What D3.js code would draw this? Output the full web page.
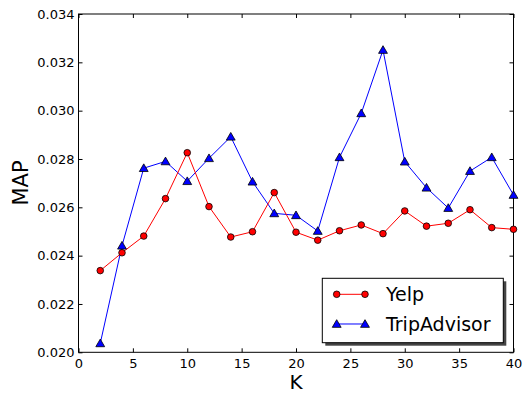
<!DOCTYPE html>
<html>
<head>
<meta charset="utf-8">
<script src="https://cdn.jsdelivr.net/npm/d3@7"></script>
<style>
  body { margin: 0; background: #fff; }
  svg { font-family: "DejaVu Sans", sans-serif; }
</style>
</head>
<body>
<svg id="chart" width="527" height="395"></svg>
<script>
// values
const ks = [2, 4, 6, 8, 10, 12, 14, 16, 18, 20, 22, 24, 26, 28, 30, 32, 34, 36, 38, 40];
const yelp = [0.02338, 0.02412, 0.02481, 0.02636, 0.02826, 0.02603, 0.02477, 0.02499, 0.02661, 0.02497,
              0.02464, 0.02503, 0.02527, 0.02491, 0.02585, 0.02522, 0.02534, 0.02590, 0.02516, 0.02509];
const tripAdvisor = [0.02037, 0.02441, 0.02762, 0.02790, 0.02708, 0.02803, 0.02892, 0.02706, 0.02575, 0.02567,
                     0.02502, 0.02807, 0.02989, 0.03251, 0.02789, 0.02681, 0.02597, 0.02750, 0.02807, 0.02651];
const xTicks = [0, 5, 10, 15, 20, 25, 30, 35, 40];
const yTicks = [0.020, 0.022, 0.024, 0.026, 0.028, 0.030, 0.032, 0.034];

const svg = d3.select("#chart");
const margin = { top: 14, right: 13.5, bottom: 42.7, left: 78.5 };
const width = 527 - margin.left - margin.right;
const height = 395 - margin.top - margin.bottom;

const g = svg.append("g").attr("transform", `translate(${margin.left},${margin.top})`);

const x = d3.scaleLinear().domain([0, 40]).range([0, width]);
const y = d3.scaleLinear().domain([0.020, 0.034]).range([height, 0]);

// axes with inward ticks on all sides
const tickLen = 4;
const axBottom = g.append("g").attr("transform", `translate(0,${height})`)
  .call(d3.axisBottom(x).tickValues(xTicks).tickSizeInner(-tickLen).tickSizeOuter(0).tickPadding(6));
const axTop = g.append("g")
  .call(d3.axisTop(x).tickValues(xTicks).tickSizeInner(-tickLen).tickSizeOuter(0).tickFormat(""));
const axLeft = g.append("g")
  .call(d3.axisLeft(y).tickValues(yTicks).tickSizeInner(-tickLen).tickSizeOuter(0).tickPadding(4).tickFormat(d3.format(".3f")));
const axRight = g.append("g").attr("transform", `translate(${width},0)`)
  .call(d3.axisRight(y).tickValues(yTicks).tickSizeInner(-tickLen).tickSizeOuter(0).tickFormat(""));

[axBottom, axTop, axLeft, axRight].forEach(a => {
  a.select(".domain").remove();
  a.selectAll("line").attr("stroke", "#000").attr("stroke-width", 1);
  a.selectAll("text").attr("font-size", 13).attr("fill", "#000")
    .attr("font-family", "DejaVu Sans, sans-serif");
});

g.append("rect").attr("width", width).attr("height", height)
  .attr("fill", "none").attr("stroke", "#000").attr("stroke-width", 1);

// series
const line = d3.line().x(d => x(d[0])).y(d => y(d[1]));
const yelpPts = ks.map((k, i) => [k, yelp[i]]);
const taPts = ks.map((k, i) => [k, tripAdvisor[i]]);
const tri = d3.symbol().type(d3.symbolTriangle).size(34);

g.append("path").datum(taPts).attr("d", line)
  .attr("fill", "none").attr("stroke", "#0000ff").attr("stroke-width", 1);
g.append("path").datum(yelpPts).attr("d", line)
  .attr("fill", "none").attr("stroke", "#ff0000").attr("stroke-width", 1);

g.selectAll(".ta").data(taPts).join("path").attr("class", "ta")
  .attr("d", tri).attr("transform", d => `translate(${x(d[0])},${y(d[1]) + 0.8})`)
  .attr("fill", "#0000ff").attr("stroke", "#000").attr("stroke-width", 0.8);
g.selectAll(".yelp").data(yelpPts).join("circle").attr("class", "yelp")
  .attr("cx", d => x(d[0])).attr("cy", d => y(d[1])).attr("r", 3.3)
  .attr("fill", "#ff0000").attr("stroke", "#000").attr("stroke-width", 0.8);

// axis titles
svg.append("text").attr("x", margin.left + width / 2).attr("y", 389)
  .attr("text-anchor", "middle").attr("font-size", 20).text("K");
svg.append("text").attr("transform", `translate(28,183) rotate(-90)`)
  .attr("text-anchor", "middle").attr("font-size", 21).text("MAP");

// legend
const lg = svg.append("g").attr("transform", "translate(322.3,278.3)");
const lw = 181, lh = 64.4;
lg.append("rect").attr("x", 3).attr("y", 3).attr("width", lw).attr("height", lh).attr("fill", "#444");
lg.append("rect").attr("width", lw).attr("height", lh).attr("fill", "#fff").attr("stroke", "#000").attr("stroke-width", 1);
const entries = [
  { name: "Yelp", color: "#ff0000", shape: "circle", cy: 16 },
  { name: "TripAdvisor", color: "#0000ff", shape: "triangle", cy: 45.7 }
];
entries.forEach(e => {
  lg.append("line").attr("x1", 14.4).attr("x2", 42.7).attr("y1", e.cy).attr("y2", e.cy)
    .attr("stroke", e.color).attr("stroke-width", 1);
  [14.4, 42.7].forEach(px => {
    if (e.shape === "circle") {
      lg.append("circle").attr("cx", px).attr("cy", e.cy).attr("r", 3.3)
        .attr("fill", e.color).attr("stroke", "#000").attr("stroke-width", 0.8);
    } else {
      lg.append("path").attr("d", tri).attr("transform", `translate(${px},${e.cy + 0.8})`)
        .attr("fill", e.color).attr("stroke", "#000").attr("stroke-width", 0.8);
    }
  });
  lg.append("text").attr("x", 63.7).attr("y", e.cy).attr("dy", "0.35em")
    .attr("font-size", 19).text(e.name);
});
</script>
</body>
</html>
